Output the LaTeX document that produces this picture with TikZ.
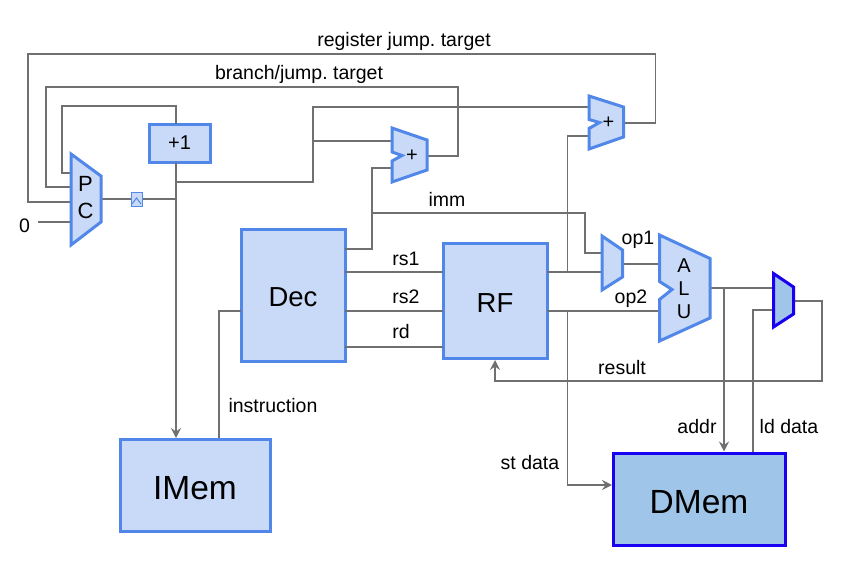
\documentclass[tikz,border=0pt]{standalone}
\usepackage{fontspec}
\setmainfont{Liberation Sans}
\usepackage{xcolor}
\usetikzlibrary{arrows.meta,calc}
\frenchspacing
\definecolor{lightblock}{HTML}{C9DAF8}
\definecolor{blockedge}{HTML}{5087E8}
\definecolor{darkblock}{HTML}{9FC5E8}
\definecolor{darkedge}{HTML}{1A00F0}
\definecolor{wirecol}{HTML}{707070}
\pgfkeys{tikz/myblock/.style={draw=blockedge,fill=lightblock,line width=3pt,inner sep=0pt,outer sep=0pt,anchor=north west}}
\pgfkeys{tikz/mydark/.style={draw=darkedge,fill=darkblock,line width=3pt}}
\pgfkeys{tikz/mymux/.style={draw=blockedge,fill=lightblock,line width=3pt,line join=miter}}
\pgfkeys{tikz/mywire/.style={draw=wirecol,line width=1.6pt}}
\pgfkeys{tikz/myarrow/.style={mywire,-{Stealth[length=10pt,width=10pt,inset=3.5pt]}}}
\pgfkeys{tikz/mylabel/.style={font=\fontsize{19.5}{21}\selectfont,inner sep=0pt}}
\newcommand*\myblocktext[2]{\raisebox{-#1}[0pt][0pt]{#2}}
\begin{document}
\begin{tikzpicture}[x=1pt,y=-1pt]
    \useasboundingbox (0,0) rectangle (853,583);
    % end points on the muxes
    \coordinate (pcA) at (71,173);
    \coordinate (pcB) at (71,187);
    \coordinate (pcC) at (71,202);
    \coordinate (pcD) at (71,222);
    \coordinate (pcout) at (101,199);
    \coordinate (zerostart) at (38,222);
    \coordinate (addonetop) at (176,124);
    \coordinate (addonebot) at (176,162);
    \coordinate (imemtop) at (176,438);
    \coordinate (instrtop) at (219,438);
    \coordinate (addAa) at (392,141);
    \coordinate (addAb) at (392,168);
    \coordinate (addAout) at (427,156);
    \coordinate (addBa) at (589,107);
    \coordinate (addBb) at (589,136);
    \coordinate (addBout) at (624,123);
    \coordinate (opa) at (602,253);
    \coordinate (opb) at (602,272);
    \coordinate (opout) at (622,264);
    \coordinate (alua) at (659,264);
    \coordinate (alub) at (659,311);
    \coordinate (aluout) at (710,288);
    \coordinate (dmuxa) at (773,288);
    \coordinate (dmuxb) at (773,310);
    \coordinate (dmuxout) at (794,301);
    % blocks
    \node[myblock,minimum width=61pt,minimum height=38pt,font=\fontsize{20}{22}\selectfont] (addone) at (149,124) {+1};
    \node[myblock,minimum width=104pt,minimum height=132pt,font=\fontsize{27.5}{30}\selectfont] (dec) at (241,229) {\myblocktext{11pt}{Dec}};
    \node[myblock,minimum width=104pt,minimum height=115pt,font=\fontsize{27.5}{30}\selectfont] (rf) at (443,243) {\myblocktext{12pt}{RF}};
    \node[myblock,minimum width=150pt,minimum height=92pt,font=\fontsize{33.5}{36}\selectfont] (imem) at (120,439) {\myblocktext{14pt}{IMem}};
    \node[myblock,mydark,minimum width=172pt,minimum height=92pt,font=\fontsize{33.5}{36}\selectfont] (dmem) at (613,453) {\myblocktext{14pt}{DMem}};
    % wires
    \draw[mywire] (pcA) -| (62,106) -| (addonetop);
    \draw[mywire] (pcB) -| (46,87) -| (458,156) -- (addAout);
    \draw[mywire] (pcC) -| (28,54) -| (655.5,123) -- (addBout);
    \draw[mywire] (zerostart) -- (pcD);
    \draw[mywire] (pcout) -- (176,199);
    \draw[myarrow] (addonebot) -- (imemtop);
    \draw[mywire] (176,182) -| (313,107) -- (addBa);
    \draw[mywire] (313,141) -- (addAa);
    \draw[mywire] (dec.east |- 0,249) -| (372,168) -- (addAb);
    \draw[mywire] (372,213) -| (585,253) -- (opa);
    \draw[mywire] (dec.east |- 0,272) -- (rf.west |- 0,272);
    \draw[mywire] (dec.east |- 0,311) -- (rf.west |- 0,311);
    \draw[mywire] (dec.east |- 0,347) -- (rf.west |- 0,347);
    \draw[mywire] (dec.west |- 0,311) -| (instrtop);
    \draw[mywire] (rf.east |- 0,272) -- (opb);
    \draw[mywire] (567.5,272) |- (addBb);
    \draw[mywire] (opout) -- (alua);
    \draw[mywire] (rf.east |- 0,311) -- (alub);
    \draw[myarrow] (567.5,311) |- ($(dmem.west |- 0,485)+(-1,0)$);
    \draw[mywire] (aluout) -- (dmuxa);
    \draw[myarrow] (724,288) -- (724,451.5);
    \draw[mywire] (dmuxb) -| (753,452);
    \draw[myarrow] (dmuxout) -| (822,381) -| (495,360);
    % muxes
    \draw[mymux] (71,154) -- (101,176) -- (101,222) -- (71,245) -- cycle;
    \node[font=\fontsize{22}{26.5}\selectfont,align=center,inner sep=0pt] (pcmux) at (85.5,197.5) {P\\C};
    \draw[mymux] (392,128) -- (427,140) -- (427,170) -- (392,182) -- (392,161) -- (402,155.5) -- (392,152) -- cycle;
    \node[font=\fontsize{20}{22}\selectfont,inner sep=0pt] (addA) at (412,155.5) {+};
    \draw[mymux] (589,96) -- (623.5,107) -- (623.5,137) -- (589,149) -- (589,128.5) -- (599.5,122.5) -- (589,119.5) -- cycle;
    \node[font=\fontsize{20}{22}\selectfont,inner sep=0pt] (addB) at (608.5,123) {+};
    \draw[mymux] (602,236) -- (622.5,250) -- (622.5,277) -- (602,290) -- cycle;
    \draw[mymux] (659.5,235) -- (710,258.5) -- (710,318) -- (659.5,341) -- (659.5,299.5) -- (672,289.5) -- (659.5,281.5) -- cycle;
    \node[font=\fontsize{20}{23}\selectfont,align=center,inner sep=0pt] (alu) at (684,289) {A\\L\\U};
    \draw[mydark] (773.5,273.5) -- (793.5,287) -- (793.5,314) -- (773.5,327) -- cycle;
    % pipeline register
    \node[draw=blockedge,fill=lightblock,line width=1pt,minimum width=11pt,minimum height=14pt,inner sep=0pt] (pcreg) at (136.5,199.5) {};
    \draw[draw=blockedge,line width=1pt] (132,204) -- (136.5,198) -- (141,204);
    % labels
    \node[mylabel] (lblzero) at (24.5,225.5) {0};
    \node[mylabel] (lblreg) at (404,41) {register jump. target};
    \node[mylabel] (lblbr) at (299,74) {branch/jump. target};
    \node[mylabel] (lblimm) at (447,199) {imm};
    \node[mylabel] (lblrsa) at (406,259) {rs1};
    \node[mylabel] (lblrsb) at (406,297) {rs2};
    \node[mylabel] (lblrd) at (401,332) {rd};
    \node[mylabel] (lblopa) at (638,240) {op1};
    \node[mylabel] (lblopb) at (631,299) {op2};
    \node[mylabel] (lblres) at (622,368) {result};
    \node[mylabel] (lblinstr) at (273,406) {instruction};
    \node[mylabel] (lbladdr) at (697,427) {addr};
    \node[mylabel] (lblld) at (789,427) {ld data};
    \node[mylabel] (lblst) at (530,463) {st data};
\end{tikzpicture}
\end{document}
